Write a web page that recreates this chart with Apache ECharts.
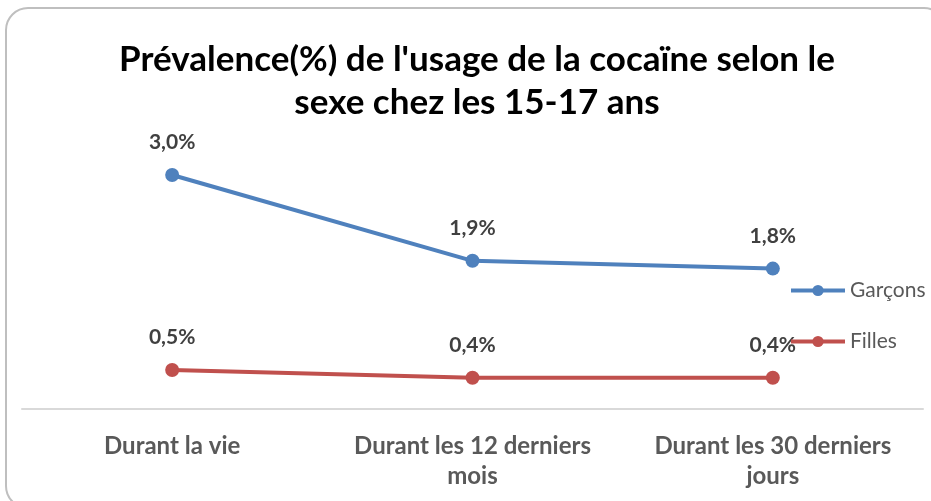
<!DOCTYPE html>
<html>
<head>
<meta charset="utf-8">
<script src="https://cdn.jsdelivr.net/npm/echarts@6/dist/echarts.min.js"></script>
<style>
  html, body { margin: 0; padding: 0; background: #fff; }
  #chart { width: 931px; height: 501px; }
</style>
</head>
<body>
<div id="chart"></div>
<script>
const categories = ['Durant la vie', 'Durant les 12 derniers\nmois', 'Durant les 30 derniers\njours']
const garcons = [3.0, 1.9, 1.8]
const filles = [0.5, 0.4, 0.4]

const chart = echarts.init(document.getElementById('chart'))
const fmt = p => p.value.toFixed(1).replace('.', ',') + '%'

chart.setOption({
  color: ['#4f81bd', '#c0504d'],
  textStyle: { fontFamily: 'Lato' },
  graphic: [
    {
      type: 'rect',
      shape: { x: 6, y: 8, width: 940, height: 500, r: 22 },
      style: { fill: 'none', stroke: '#bfbfbf', lineWidth: 2 },
      silent: true
    }
  ],
  title: {
    text: "Prévalence(%) de l'usage de la cocaïne selon le\nsexe chez les 15-17 ans",
    left: 472,
    textAlign: 'center',
    top: 33,
    textStyle: { fontSize: 35, fontWeight: 'bold', color: '#000', lineHeight: 43, fontFamily: 'Lato' }
  },
  legend: {
    orient: 'vertical',
    left: 784,
    top: 275,
    itemGap: 30,
    itemWidth: 54,
    itemHeight: 14,
    lineStyle: { width: 4 },
    textStyle: { fontSize: 21, color: '#595959', fontFamily: 'Lato' },
    data: ['Garçons', 'Filles']
  },
  grid: { left: 22, right: 8, top: 136, bottom: 92 },
  xAxis: {
    type: 'category',
    data: categories,
    axisLine: { lineStyle: { color: '#d9d9d9', width: 2 } },
    axisTick: { show: false },
    axisLabel: { fontSize: 24, fontWeight: 'bold', color: '#595959', lineHeight: 30, margin: 22, interval: 0 }
  },
  yAxis: {
    type: 'value',
    min: 0,
    max: 3.5,
    show: false,
    splitLine: { show: false }
  },
  series: [
    {
      name: 'Garçons',
      type: 'line',
      data: garcons,
      symbol: 'circle',
      symbolSize: 14,
      lineStyle: { width: 4 },
      label: { show: true, position: 'top', distance: 15, formatter: fmt, fontSize: 21, fontWeight: 'bold', color: '#404040' }
    },
    {
      name: 'Filles',
      type: 'line',
      data: filles,
      symbol: 'circle',
      symbolSize: 14,
      lineStyle: { width: 4 },
      label: { show: true, position: 'top', distance: 15, formatter: fmt, fontSize: 21, fontWeight: 'bold', color: '#404040' }
    }
  ]
})
window.addEventListener('resize', () => chart.resize())
</script>
</body>
</html>
